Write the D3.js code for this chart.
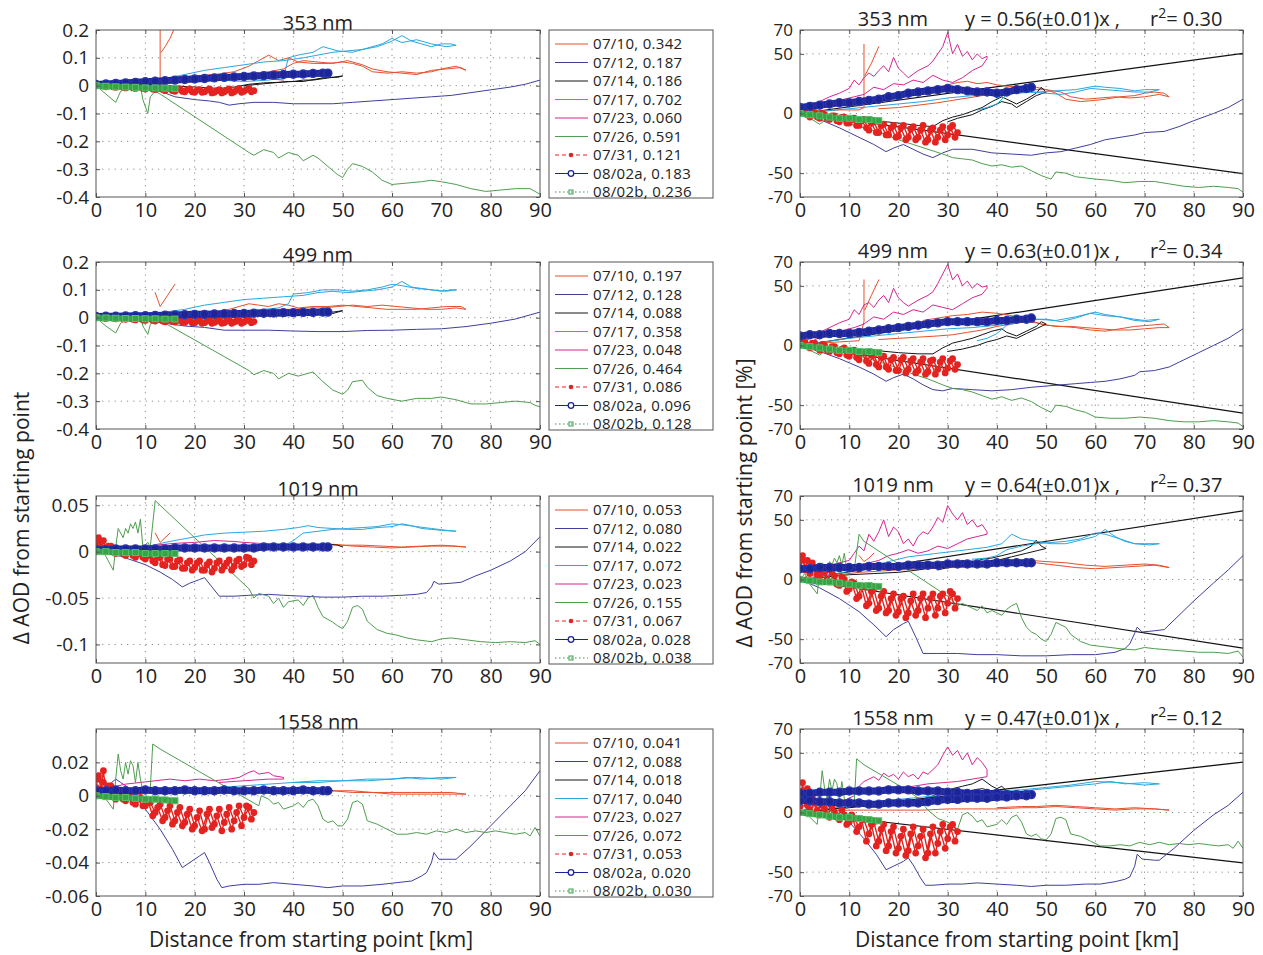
<!DOCTYPE html>
<html>
<head>
<meta charset="utf-8">
<script src="https://cdn.jsdelivr.net/npm/d3@7"></script>
<style>
  body { margin: 0; background: #fff; }
  svg text { font-family: "Open Sans", "Noto Sans", sans-serif; fill: #222; }
</style>
</head>
<body>
<script>
// ---- data ----
var flightDays = ["07/10", "07/12", "07/14", "07/17", "07/23", "07/26", "07/31", "08/02a", "08/02b"];
var wavelengths = ["353 nm", "499 nm", "1019 nm", "1558 nm"];
var startAod353 = ["0.342", "0.187", "0.186", "0.702", "0.060", "0.591", "0.121", "0.183", "0.236"];
var startAod499 = ["0.197", "0.128", "0.088", "0.358", "0.048", "0.464", "0.086", "0.096", "0.128"];
var startAod1019 = ["0.053", "0.080", "0.022", "0.072", "0.023", "0.155", "0.067", "0.028", "0.038"];
var startAod1558 = ["0.041", "0.088", "0.018", "0.040", "0.027", "0.072", "0.053", "0.020", "0.030"];
var fitSlopes = [0.56, 0.63, 0.64, 0.47];
var fitErrors = ["0.01", "0.01", "0.01", "0.01"];
var fitR2 = ["0.30", "0.34", "0.37", "0.12"];
var distTicks = [0, 10, 20, 30, 40, 50, 60, 70, 80, 90];
var absDomains = [[-0.4, 0.2], [-0.4, 0.2], [-0.12, 0.06], [-0.06, 0.04]];
var absTicks = [[-0.4, -0.3, -0.2, -0.1, 0, 0.1, 0.2], [-0.4, -0.3, -0.2, -0.1, 0, 0.1, 0.2],
                [-0.1, -0.05, 0, 0.05], [-0.06, -0.04, -0.02, 0, 0.02]];
var relDomain = [-70, 70];
var relTicks = [-70, -50, 0, 50, 70];

// 353 nm, delta AOD  (flat x,y pairs; null,null breaks the line)
var abs353_0710 = [0,0, 3,0.005, 6,0.01, 9,0.012, 12,0.02, 13,0.02, 13,0.21, null,null, 13.2,0.12, 14,0.14, 15,0.17, 16,0.21, null,null, 16,0.03, 20,0.03, 24,0.04, 28,0.05, 31,0.07, 33,0.09, 35,0.11, 37,0.09, 39,0.1, 41,0.085, 44,0.08, 47,0.08, 50,0.085, 52,0.08, 54,0.07, 56,0.05, 59,0.045, 62,0.05, 65,0.045, 68,0.05, 70,0.06, 73,0.07, 75,0.055, 74,0.065, 71,0.06, 68,0.055, 65,0.04, 62,0.045, 59,0.05, 56,0.06, 54,0.075, 51,0.09, 48,0.08, 45,0.085, 42,0.09, 40,0.08, 38,0.06, 35,0.05, 32,0.045, 28,0.04, 24,0.04, 20,0.035, 16,0.03];
var abs353_0712 = [0,0, 5,-0.005, 10,-0.012, 13,-0.02, 16,-0.04, 20,-0.05, 23,-0.055, 25,-0.06, 27,-0.07, 29,-0.065, 32,-0.06, 36,-0.06, 40,-0.065, 44,-0.065, 48,-0.065, 52,-0.06, 56,-0.055, 60,-0.05, 64,-0.045, 68,-0.04, 72,-0.035, 76,-0.025, 80,-0.015, 84,-0.005, 87,0.005, 90,0.02];
var abs353_0714 = [0,0, 5,0.005, 10,0.005, 15,0, 20,-0.005, 25,-0.01, 28,-0.005, 31,0.005, 34,0.01, 37,0.012, 40,0.015, 42,0.02, 44,0.02, 46,0.025, 48,0.03, 50,0.035, 49,0.03, 47,0.03, 45,0.025, 42,0.015, 39,0.015, 36,0.01, 33,0.005, 30,0];
var abs353_0717 = [0,0, 5,0.005, 10,0.012, 14,0.025, 18,0.04, 22,0.055, 26,0.065, 30,0.075, 34,0.085, 38,0.09, 42,0.1, 45,0.11, 48,0.12, 51,0.125, 54,0.13, 57,0.14, 60,0.16, 62,0.18, 64,0.16, 66,0.15, 68,0.14, 70,0.15, 72,0.15, 73,0.145, 71,0.14, 68,0.15, 65,0.165, 62,0.155, 60,0.17, 58,0.15, 55,0.135, 52,0.12, 49,0.125, 46,0.14, 44,0.12, 41,0.11, 39,0.1, 38,0.03, 35,0.02, 30,0.015, 25,0.02];
var abs353_0723 = [0,0, 4,0.005, 8,0.01, 12,0.015, 16,0.02, 20,0.02, 24,0.025, 28,0.03, 32,0.03, 35,0.025, 38,0.02];
var abs353_0726 = [0,0, 2,-0.03, 4,-0.06, 5,-0.02, 7,-0.005, 9,0, 9.5,-0.05, 10.5,-0.1, 11,-0.04, 12,-0.02, 13,-0.03, 31,-0.24, 32,-0.25, 34,-0.23, 36,-0.24, 37,-0.26, 39,-0.24, 41,-0.25, 42,-0.27, 44,-0.25, 45,-0.26, 47,-0.29, 49,-0.32, 50,-0.33, 51,-0.3, 52,-0.28, 54,-0.29, 56,-0.31, 58,-0.34, 60,-0.355, 63,-0.35, 66,-0.345, 68,-0.34, 70,-0.345, 73,-0.355, 76,-0.37, 79,-0.38, 82,-0.375, 85,-0.37, 88,-0.37, 89,-0.38, 90,-0.39];
var abs353_0731 = [0,0, 1,0.004, 2,-0.004, 3,0.002, 4,-0.006, 5,0, 6,-0.008, 7,-0.002, 8,-0.01, 9,-0.004, 10,-0.012, 11,-0.006, 12,-0.014, 13,-0.008, 14,-0.018, 15,-0.01, 16,-0.02, 17,-0.012, 18,-0.022, 19,-0.012, 20,-0.024, 21,-0.014, 22,-0.022, 23,-0.012, 24,-0.024, 25,-0.014, 26,-0.022, 27,-0.012, 28,-0.022, 29,-0.01, 30,-0.02, 31,-0.01, 32,-0.018,
  31.5,-0.022, 30.5,-0.014, 29.5,-0.024, 28.5,-0.016, 27.5,-0.026, 26.5,-0.016, 25.5,-0.026, 24.5,-0.018, 23.5,-0.026, 22.5,-0.016, 21.5,-0.024, 20.5,-0.016, 19.5,-0.022, 18.5,-0.014, 17.5,-0.02, 16.5,-0.012, 15.5,-0.018, 14.5,-0.01, 13.5,-0.014, 12.5,-0.008, 11.5,-0.012, 10.5,-0.006, 9.5,-0.01, 8.5,-0.004, 7.5,-0.008, 6.5,-0.002, 5.5,-0.006, 4.5,0, 3.5,-0.004, 2.5,0.002, 1.5,-0.002, 0.5,0.002];
var abs353_0802a = [0,0.004, 2,0.006, 4,0.008, 6,0.01, 8,0.012, 10,0.014, 12,0.016, 14,0.018, 16,0.02, 18,0.022, 20,0.024, 22,0.026, 24,0.028, 26,0.03, 28,0.031, 30,0.033, 32,0.035, 34,0.036, 36,0.038, 38,0.04, 40,0.041, 42,0.042, 44,0.044, 46,0.045, 47,0.045];
var abs353_0802b = [0,0, 2,-0.002, 4,-0.004, 6,-0.005, 8,-0.006, 10,-0.008, 12,-0.008, 14,-0.009, 16,-0.01];

// 353 nm, percent
var rel353_0710 = [0,0, 4,2, 8,3, 12,3, 13,5, 13,58, null,null, 13.2,32, 14.5,42, 16,56, null,null, 16,4, 20,5, 24,7, 28,9, 31,11, 34,13, 37,15, 40,18, 43,21, 46,22, 48,22, 50,20, 52,17, 54,12, 57,10, 60,11, 62,12, 65,14, 68,15, 70,17, 72,18, 74,17, 75,14, 73,16, 70,14, 67,13, 64,14, 61,13, 58,12, 55,14, 53,18, 50,20, 47,20, 45,22, 42,23, 40,24, 38,26, 36,25, 34,27, 32,26, 30,24, 28,21];
var rel353_0712 = [0,0, 4,-5, 8,-12, 12,-20, 15,-26, 17.5,-32, 19,-29, 21,-26, 23,-30, 25,-34, 27,-37, 29,-33, 31,-30, 35,-30, 39,-33, 43,-34, 47,-35, 50,-33, 53,-32, 56,-29, 59,-26, 62,-22, 65,-20, 68,-18, 70,-16, 74,-15, 77,-11, 80,-6, 84,0, 87,5, 90,12];
var rel353_0714 = [0,0, 5,-2, 10,-4, 15,-6, 20,-8, 24,-10, 27,-11, 29,-6, 31,-3, 33,-1, 35,2, 37,5, 39,10, 41,14, 42,12, 44,8, 46,12, 48,17, 49,22, 50,18, 48,15, 46,10, 44,5, 43,8, 41,10, 39,6, 37,3, 35,-1, 32,-4, 30,-7];
var rel353_0717 = [0,0, 5,2, 10,4, 15,6, 20,8, 25,10, 30,13, 35,15, 40,17, 44,17, 48,18, 52,19, 56,20, 60,23, 62,22, 65,21, 68,19, 70,20, 73,20, 71,18, 68,18, 65,19, 62,20, 59,21, 56,18, 53,16, 50,17, 47,18, 44,18, 42,16, 40,8, 38,5, 36,3];
var rel353_0723 = [0,0, 2,6, 4,10, 6,14, 8,17, 10,21, 11,28, 12,24, 13,30, 14,34, 15,31, 16,36, 17,40, 18,35, 19,47, 20,38, 21,34, 22,30, 24,36, 26,40, 27,44, 28,50, 29,56, 30,68, 31,50, 32,58, 33,48, 34,52, 35,45, 36,50, 37,46, 38,48, 38,46, 37,40, 35,36, 33,30, 31,26, 29,28, 27,32, 25,26, 23,28, 21,24, 19,25, 17,20, 15,22, 13,16, 11,14, 9,12, 7,10, 5,7, 3,5];
var rel353_0726 = [0,0, 2,-4, 4,-9, 5,-6, 7,-5, 9,-7, 11,-10, 14,-13, 17,-17, 20,-22, 23,-26, 26,-30, 29,-34, 31,-37, 33,-38, 35,-39, 37,-42, 39,-44, 41,-43, 43,-45, 45,-44, 47,-48, 49,-52, 51,-55, 52,-49, 54,-50, 56,-53, 58,-54, 60,-55, 63,-56, 66,-58, 69,-57, 72,-57, 75,-59, 78,-61, 81,-62, 84,-61, 87,-62, 89,-63, 90,-66];
var rel353_0731 = [0,0, 1,2, 2,-3, 3,1, 4,-4, 5,-1, 6,-5, 7,-2, 8,-7, 9,-3, 10,-8, 11,-4, 12,-10, 13,-5, 14,-14, 15,-7, 16,-16, 17,-9, 18,-18, 19,-10, 20,-19, 21,-10, 22,-20, 23,-11, 24,-20, 25,-10, 26,-22, 27,-12, 28,-20, 29,-11, 30,-18, 31,-10, 32,-16,
  31.5,-20, 30.5,-12, 29.5,-22, 28.5,-14, 27.5,-24, 26.5,-14, 25.5,-24, 24.5,-14, 23.5,-22, 22.5,-13, 21.5,-22, 20.5,-12, 19.5,-20, 18.5,-12, 17.5,-18, 16.5,-10, 15.5,-16, 14.5,-8, 13.5,-12, 12.5,-6, 11.5,-10, 10.5,-5, 9.5,-8, 8.5,-3, 7.5,-6, 6.5,-2, 5.5,-4, 4.5,0, 3.5,-3, 2.5,1, 1.5,-1, 0.5,2];
var rel353_0802a = [0,5, 2,6, 4,7, 6,8, 8,9, 10,9, 12,10, 14,11, 16,12, 18,14, 20,15, 22,17, 24,18, 26,19, 28,20, 30,21, 32,20, 34,19, 36,18, 38,18, 40,17, 42,18, 44,20, 46,21, 47,22];
var rel353_0802b = [0,0, 2,-1, 4,-2, 6,-3, 8,-4, 10,-4, 12,-5, 14,-5, 16,-6];

// 499 nm, delta AOD
var abs499_0710 = [0,0, 4,0.004, 8,0.008, 12,0.01, 16,0.012, 20,0.015, 24,0.02, 27,0.03, 29,0.04, 31,0.05, 33,0.045, 35,0.04, 37,0.05, 39,0.045, 41,0.035, 44,0.04, 47,0.04, 50,0.045, 53,0.04, 56,0.035, 59,0.03, 62,0.03, 65,0.03, 68,0.035, 71,0.04, 74,0.04, 75,0.03, 73,0.035, 70,0.03, 67,0.03, 64,0.035, 61,0.04, 58,0.045, 55,0.04, 52,0.045, 49,0.04, 46,0.035, 43,0.035, 40,0.03, 36,0.03, 32,0.025, 28,0.02, null,null, 12,0.09, 13,0.04, 14.5,0.08, 16,0.12];
var abs499_0712 = [0,0, 5,-0.005, 10,-0.012, 14,-0.02, 18,-0.03, 22,-0.035, 26,-0.045, 30,-0.045, 35,-0.045, 40,-0.048, 45,-0.05, 50,-0.05, 55,-0.046, 60,-0.045, 65,-0.042, 70,-0.04, 75,-0.032, 80,-0.02, 85,-0.005, 90,0.02];
var abs499_0714 = [0,0, 10,0.002, 20,0, 25,-0.002, 30,0.003, 35,0.008, 40,0.012, 43,0.015, 46,0.02, 48,0.02, 50,0.025, 48,0.015, 45,0.012, 40,0.008, 35,0.005];
var abs499_0717 = [0,0, 5,0.005, 10,0.01, 14,0.02, 18,0.03, 22,0.045, 26,0.055, 30,0.065, 34,0.07, 38,0.075, 42,0.08, 45,0.09, 48,0.095, 51,0.09, 54,0.095, 57,0.1, 60,0.11, 62,0.13, 64,0.11, 66,0.105, 68,0.1, 70,0.095, 72,0.1, 73,0.1, 71,0.095, 68,0.1, 65,0.105, 62,0.115, 60,0.12, 58,0.11, 55,0.1, 52,0.095, 49,0.1, 46,0.1, 43,0.09, 40,0.085, 39,0.05, 37,0.035, 34,0.03, 30,0.025];
var abs499_0723 = [0,0, 5,0.004, 10,0.008, 15,0.012, 20,0.015, 25,0.018, 30,0.02, 34,0.02, 38,0.018];
var abs499_0726 = [0,0, 2,-0.03, 4,-0.055, 5,-0.02, 7,0, 9,0.01, 9.5,-0.03, 10.5,-0.06, 11,-0.025, 12,0, 13,-0.01, 31,-0.19, 32,-0.205, 34,-0.19, 36,-0.2, 37,-0.22, 39,-0.2, 41,-0.21, 43,-0.2, 44,-0.195, 46,-0.23, 48,-0.26, 50,-0.275, 51,-0.26, 52,-0.23, 54,-0.225, 55,-0.25, 57,-0.28, 59,-0.29, 62,-0.3, 65,-0.29, 68,-0.29, 70,-0.285, 73,-0.295, 76,-0.31, 79,-0.31, 82,-0.305, 85,-0.3, 88,-0.305, 89,-0.315, 90,-0.32];
var abs499_0731 = [0,0, 1,0.003, 2,-0.003, 3,0.002, 4,-0.004, 5,0, 6,-0.006, 7,-0.002, 8,-0.008, 9,-0.002, 10,-0.01, 11,-0.004, 12,-0.012, 13,-0.005, 14,-0.015, 15,-0.006, 16,-0.016, 17,-0.007, 18,-0.017, 19,-0.007, 20,-0.018, 21,-0.008, 22,-0.018, 23,-0.008, 24,-0.017, 25,-0.007, 26,-0.018, 27,-0.008, 28,-0.016, 29,-0.006, 30,-0.016, 31,-0.007, 32,-0.014,
  31.5,-0.018, 30.5,-0.01, 29.5,-0.02, 28.5,-0.012, 27.5,-0.02, 26.5,-0.012, 25.5,-0.02, 24.5,-0.012, 23.5,-0.02, 22.5,-0.012, 21.5,-0.02, 20.5,-0.012, 19.5,-0.018, 18.5,-0.01, 17.5,-0.016, 16.5,-0.01, 15.5,-0.014, 14.5,-0.008, 13.5,-0.012, 12.5,-0.006, 11.5,-0.01, 10.5,-0.004, 9.5,-0.008, 8.5,-0.002, 7.5,-0.006, 6.5,0, 5.5,-0.004, 4.5,0.002, 3.5,-0.002, 2.5,0.002, 1.5,-0.001, 0.5,0.002];
var abs499_0802a = [0,0.004, 2,0.005, 4,0.005, 6,0.006, 8,0.007, 10,0.007, 12,0.008, 14,0.009, 16,0.01, 18,0.011, 20,0.012, 22,0.012, 24,0.013, 26,0.014, 28,0.015, 30,0.015, 32,0.016, 34,0.016, 36,0.017, 38,0.018, 40,0.018, 42,0.019, 44,0.019, 46,0.02, 47,0.02];
var abs499_0802b = [0,0, 2,-0.001, 4,-0.002, 6,-0.003, 8,-0.003, 10,-0.004, 12,-0.004, 14,-0.005, 16,-0.005];

// 499 nm, percent
var rel499_0710 = [0,0, 4,2, 8,3, 12,4, 13,20, 13,55, null,null, 13.2,30, 14.5,42, 16,55, null,null, 16,5, 20,6, 24,7, 28,8, 31,9, 34,11, 37,13, 40,16, 43,18, 46,20, 48,19, 50,17, 53,16, 56,15, 59,13, 62,12, 65,14, 68,16, 71,17, 74,18, 75,15, 73,15, 70,14, 67,13, 64,13, 61,14, 58,15, 55,16, 52,16, 49,18, 46,22, 43,25, 40,27, 37,28, 34,26, 31,25, 28,23, 25,21];
var rel499_0712 = [0,0, 4,-5, 8,-11, 12,-18, 15,-24, 17.5,-30, 19,-27, 21,-24, 23,-28, 25,-33, 27,-37, 29,-38, 31,-36, 35,-37, 39,-38, 43,-37, 47,-35, 50,-34, 53,-33, 56,-32, 59,-31, 62,-30, 65,-28, 68,-25, 69,-22, 72,-21, 75,-18, 78,-12, 81,-6, 84,0, 87,6, 90,14];
var rel499_0714 = [0,0, 5,-2, 10,-3, 15,-4, 20,-6, 24,-7, 27,-7, 29,-2, 31,2, 33,4, 35,6, 37,9, 39,12, 41,14, 42,11, 44,8, 46,12, 48,16, 49,20, 50,18, 48,14, 46,10, 44,6, 42,8, 40,5, 38,3, 36,0, 33,-3, 30,-5];
var rel499_0717 = [0,0, 5,3, 10,6, 15,8, 20,10, 25,12, 30,14, 35,15, 40,17, 44,20, 48,22, 52,21, 56,24, 60,28, 62,26, 65,24, 68,22, 70,21, 73,22, 71,20, 68,21, 65,24, 62,25, 59,27, 56,23, 53,20, 50,22, 47,22, 44,19, 42,17, 40,10, 38,6, 36,4];
var rel499_0723 = [0,0, 2,6, 4,11, 6,15, 8,19, 10,22, 11,30, 12,26, 13,34, 14,36, 15,32, 16,38, 17,42, 18,36, 19,48, 20,40, 21,36, 22,33, 24,38, 26,42, 27,45, 28,52, 29,60, 30,68, 31,55, 32,60, 33,50, 34,54, 35,48, 36,52, 37,49, 38,50, 38,48, 37,43, 35,40, 33,35, 31,30, 29,32, 27,34, 25,28, 23,30, 21,26, 19,28, 17,22, 15,24, 13,18, 11,15, 9,13, 7,11, 5,8, 3,5];
var rel499_0726 = [0,0, 2,-4, 4,-8, 5,-5, 7,-4, 9,-6, 11,-8, 14,-11, 17,-15, 20,-19, 23,-24, 26,-28, 29,-33, 31,-36, 33,-37, 35,-39, 37,-42, 39,-45, 41,-43, 43,-46, 45,-44, 47,-47, 49,-52, 51,-56, 52,-50, 54,-51, 56,-54, 58,-56, 60,-60, 63,-61, 66,-61, 69,-60, 72,-61, 75,-63, 78,-64, 81,-64, 84,-63, 87,-64, 89,-65, 90,-68];
var rel499_0731 = [0,0, 1,3, 2,-2, 3,2, 4,-4, 5,0, 6,-5, 7,-1, 8,-7, 9,-2, 10,-9, 11,-4, 12,-12, 13,-6, 14,-15, 15,-8, 16,-18, 17,-9, 18,-20, 19,-10, 20,-21, 21,-10, 22,-20, 23,-11, 24,-21, 25,-11, 26,-22, 27,-12, 28,-20, 29,-11, 30,-19, 31,-11, 32,-16,
  31.5,-20, 30.5,-13, 29.5,-23, 28.5,-14, 27.5,-24, 26.5,-13, 25.5,-24, 24.5,-14, 23.5,-23, 22.5,-13, 21.5,-23, 20.5,-12, 19.5,-21, 18.5,-12, 17.5,-18, 16.5,-10, 15.5,-16, 14.5,-8, 13.5,-13, 12.5,-6, 11.5,-10, 10.5,-5, 9.5,-8, 8.5,-3, 7.5,-6, 6.5,-1, 5.5,-4, 4.5,1, 3.5,-2, 2.5,2, 1.5,0, 0.5,3];
var rel499_0802a = [0,8, 2,9, 4,9, 6,10, 8,10, 10,10, 12,11, 14,12, 16,13, 18,14, 20,15, 22,16, 24,17, 26,18, 28,19, 30,20, 32,20, 34,20, 36,20, 38,20, 40,21, 42,21, 44,22, 46,22, 47,23];
var rel499_0802b = [0,0, 2,-1, 4,-2, 6,-3, 8,-4, 10,-4, 12,-5, 14,-5, 16,-6];

// 1019 nm, delta AOD
var abs1019_0710 = [0,0, 4,0.002, 8,0.003, 12,0.004, 16,0.004, 20,0.005, 25,0.006, 30,0.006, 35,0.006, 40,0.007, 45,0.007, 48,0.008, 52,0.006, 56,0.005, 60,0.004, 64,0.005, 68,0.006, 72,0.006, 75,0.005, 73,0.006, 70,0.007, 66,0.006, 62,0.005, 58,0.006, 54,0.007, 50,0.007, 47,0.008, null,null, 12,0.02, 13,0.01, 14,0.015, 15,0.02];
var abs1019_0712 = [0,0, 5,-0.005, 10,-0.014, 13,-0.022, 15.5,-0.03, 17.5,-0.038, 19,-0.034, 21,-0.03, 22,-0.028, 23.5,-0.038, 25,-0.048, 28,-0.048, 31,-0.047, 35,-0.046, 38,-0.047, 42,-0.048, 46,-0.049, 50,-0.049, 54,-0.048, 58,-0.048, 62,-0.047, 65,-0.046, 67,-0.044, 68,-0.038, 68.5,-0.032, 69.5,-0.035, 72,-0.034, 74,-0.033, 77,-0.026, 80,-0.02, 84,-0.01, 87,0, 90,0.016];
var abs1019_0714 = [0,0, 10,0.002, 20,0.003, 30,0.004, 40,0.005, 44,0.006, 47,0.008, 49,0.007, 50,0.005];
var abs1019_0717 = [0,0, 5,0.002, 10,0.005, 14,0.01, 18,0.014, 22,0.018, 26,0.02, 30,0.021, 34,0.022, 38,0.024, 41,0.026, 43,0.028, 45,0.026, 48,0.025, 51,0.024, 54,0.024, 57,0.026, 60,0.027, 62,0.03, 64,0.028, 66,0.025, 68,0.024, 70,0.023, 73,0.022, 71,0.023, 68,0.025, 65,0.027, 62,0.029, 60,0.03, 57,0.027, 54,0.026, 51,0.025, 48,0.024, 45,0.022, 42,0.02, 40,0.012, 38,0.006, 35,0.005];
var abs1019_0723 = [0,0, 4,0.003, 8,0.005, 12,0.007, 16,0.009, 20,0.01, 24,0.012, 28,0.011, 30,0.01, 33,0.009, 36,0.008, 38,0.007];
var abs1019_0726 = [0,0, 1,0.004, 2,-0.005, 3.5,-0.02, 4,0.005, 4.5,0.025, 5.5,0.015, 6,0.025, 6.5,0.02, 7,0.03, 7.5,0.025, 8,0.032, 8.5,0.02, 9,0.035, 9.5,0.005, 10.5,0.01, 11,0.005, 12,0.055, 13,0.05, 31,-0.04, 32,-0.05, 33,-0.045, 35,-0.048, 36,-0.056, 37,-0.05, 38,-0.06, 39,-0.054, 41,-0.052, 42,-0.058, 43,-0.05, 44,-0.047, 45,-0.06, 46,-0.07, 47,-0.073, 48,-0.076, 49,-0.08, 50,-0.083, 51,-0.075, 52,-0.06, 53,-0.058, 54,-0.062, 55,-0.075, 57,-0.084, 59,-0.088, 61,-0.09, 63,-0.093, 65,-0.095, 68,-0.097, 70,-0.094, 72,-0.093, 75,-0.095, 78,-0.097, 81,-0.098, 84,-0.097, 87,-0.098, 89,-0.096, 90,-0.1];
var abs1019_0731 = [0,0.008, 0.5,0.015, 1,0.005, 1.5,0.012, 2,0.002, 3,0.006, 4,-0.002, 5,0.002, 6,-0.004, 7,0, 8,-0.006, 9,-0.002, 10,-0.008, 11,-0.004, 12,-0.012, 13,-0.006, 14,-0.015, 15,-0.008, 16,-0.016, 17,-0.009, 18,-0.018, 19,-0.01, 20,-0.017, 21,-0.01, 22,-0.02, 23,-0.011, 24,-0.018, 25,-0.01, 26,-0.016, 27,-0.009, 28,-0.016, 29,-0.008, 30,-0.014, 31,-0.007, 32,-0.01,
  31.5,-0.014, 30.5,-0.006, 29.5,-0.016, 28.5,-0.01, 27.5,-0.02, 26.5,-0.012, 25.5,-0.02, 24.5,-0.012, 23.5,-0.022, 22.5,-0.014, 21.5,-0.02, 20.5,-0.012, 19.5,-0.02, 18.5,-0.012, 17.5,-0.018, 16.5,-0.01, 15.5,-0.016, 14.5,-0.008, 13.5,-0.014, 12.5,-0.006, 11.5,-0.01, 10.5,-0.004, 9.5,-0.006, 8.5,-0.002, 7.5,-0.004, 6.5,0, 5.5,-0.002, 4.5,0.002, 3.5,0, 2.5,0.006, 1.5,0.004, 0.5,0.01];
var abs1019_0802a = [0,0.002, 2,0.002, 4,0.003, 6,0.003, 8,0.003, 10,0.003, 12,0.003, 14,0.003, 16,0.004, 18,0.004, 20,0.004, 22,0.004, 24,0.004, 26,0.004, 28,0.004, 30,0.004, 32,0.004, 34,0.005, 36,0.005, 38,0.005, 40,0.005, 42,0.005, 44,0.005, 46,0.005, 47,0.005];
var abs1019_0802b = [0,0, 2,0, 4,-0.001, 6,-0.001, 8,-0.001, 10,-0.002, 12,-0.002, 14,-0.002, 16,-0.002];

// 1019 nm, percent
var rel1019_0710 = [0,0, 4,3, 8,4, 12,6, 16,7, 20,8, 25,9, 30,10, 35,11, 40,12, 45,13, 48,14, 52,12, 56,10, 60,9, 64,10, 68,11, 72,12, 75,10, 73,12, 70,13, 66,12, 62,11, 58,12, 54,14, 50,15, 47,16, null,null, 12,20, 13,15, 14,18, 15,22];
var rel1019_0712 = [0,0, 4,-7, 8,-16, 12,-27, 15,-38, 17.5,-48, 19,-42, 21,-37, 22,-35, 23.5,-48, 25,-62, 28,-62, 32,-62, 36,-63, 40,-63, 45,-64, 50,-64, 55,-63, 60,-63, 64,-61, 66,-58, 67,-54, 68,-45, 68.5,-40, 69.5,-44, 72,-43, 74,-42, 77,-30, 80,-18, 84,-3, 87,8, 90,20];
var rel1019_0714 = [0,0, 5,2, 10,4, 15,5, 20,6, 24,8, 27,10, 29,12, 31,13, 33,16, 35,14, 37,17, 39,18, 41,20, 43,22, 45,24, 47,28, 48,33, 49,28, 50,26, 48,24, 46,22, 43,19, 40,16, 37,14, 34,13, 31,11, 28,8];
var rel1019_0717 = [0,0, 5,3, 10,7, 14,11, 18,15, 22,19, 26,21, 30,23, 34,25, 38,27, 41,30, 43,38, 45,34, 48,32, 51,30, 54,30, 57,33, 60,36, 62,42, 64,36, 66,32, 68,30, 70,30, 73,30, 71,29, 68,30, 65,34, 62,38, 60,39, 57,34, 54,32, 51,31, 48,30, 45,28, 42,25, 40,20, 38,18, 35,17];
var rel1019_0723 = [0,0, 2,4, 4,8, 6,12, 8,14, 10,16, 11,22, 12,28, 13,24, 14,38, 15,32, 16,40, 17,50, 18,36, 19,44, 20,40, 21,30, 22,34, 23,28, 24,36, 25,40, 26,38, 27,44, 28,52, 29,48, 30,62, 31,55, 32,50, 33,56, 34,46, 35,50, 36,44, 37,46, 38,40, 38,38, 36,36, 34,34, 32,30, 30,26, 28,28, 26,24, 24,22, 22,25, 20,22, 18,20, 16,16, 14,14, 12,12, 10,10, 8,8, 6,6, 4,5, 2,3];
var rel1019_0726 = [0,0, 1,5, 2,-4, 3.5,-12, 4,5, 4.5,14, 5.5,10, 6,15, 6.5,12, 7,18, 7.5,14, 8,20, 8.5,12, 9,22, 9.5,8, 10.5,10, 11,8, 12,38, 13,32, 30,-14, 31,-18, 32,-22, 33,-20, 35,-24, 36,-26, 37,-22, 38,-28, 39,-26, 41,-30, 42,-25, 43,-22, 44,-20, 45,-32, 46,-40, 47,-44, 48,-46, 49,-50, 50,-52, 51,-46, 52,-36, 53,-38, 54,-40, 55,-46, 57,-52, 59,-55, 61,-56, 63,-57, 65,-58, 68,-59, 70,-57, 72,-58, 75,-59, 78,-60, 81,-61, 84,-61, 87,-62, 89,-60, 90,-65];
var rel1019_0731 = [0,10, 0.5,20, 1,8, 1.5,16, 2,5, 3,10, 4,2, 5,6, 6,-2, 7,3, 8,-5, 9,0, 10,-8, 11,-3, 12,-14, 13,-6, 14,-20, 15,-8, 16,-24, 17,-10, 18,-26, 19,-12, 20,-27, 21,-14, 22,-28, 23,-12, 24,-26, 25,-12, 26,-24, 27,-12, 28,-24, 29,-12, 30,-20, 31,-12, 32,-16,
  31.5,-24, 30.5,-10, 29.5,-28, 28.5,-14, 27.5,-30, 26.5,-16, 25.5,-32, 24.5,-16, 23.5,-30, 22.5,-18, 21.5,-32, 20.5,-16, 19.5,-30, 18.5,-16, 17.5,-28, 16.5,-14, 15.5,-26, 14.5,-10, 13.5,-22, 12.5,-6, 11.5,-16, 10.5,-2, 9.5,-10, 8.5,2, 7.5,-4, 6.5,6, 5.5,0, 4.5,8, 3.5,4, 2.5,14, 1.5,8, 0.5,16];
var rel1019_0802a = [0,9, 2,9, 4,10, 6,10, 8,10, 10,10, 12,10, 14,11, 16,11, 18,11, 20,11, 22,12, 24,12, 26,12, 28,12, 30,13, 32,13, 34,13, 36,13, 38,13, 40,14, 42,14, 44,14, 46,14, 47,14];
var rel1019_0802b = [0,0, 2,-1, 4,-2, 6,-2, 8,-3, 10,-4, 12,-5, 14,-5, 16,-6];

// 1558 nm, delta AOD
var abs1558_0710 = [0,0, 5,0.001, 10,0.002, 15,0.002, 20,0.002, 25,0.002, 30,0.002, 35,0.002, 40,0.002, 45,0.003, 48,0.003, 52,0.002, 56,0.002, 60,0.001, 65,0.001, 70,0.001, 75,0.001, 72,0.002, 68,0.002, 64,0.002, 60,0.002, 56,0.002, 52,0.003, 48,0.003];
var abs1558_0712 = [0,0, 2,0.005, 4,0.01, 5,0.008, 7,0.004, 10,-0.008, 13,-0.02, 15.5,-0.032, 17.5,-0.043, 19,-0.04, 21,-0.036, 22,-0.034, 23,-0.04, 24.5,-0.05, 25.5,-0.055, 27,-0.054, 30,-0.053, 33,-0.053, 36,-0.052, 40,-0.053, 44,-0.054, 47,-0.055, 50,-0.054, 54,-0.054, 58,-0.053, 61,-0.052, 64,-0.051, 66,-0.048, 67,-0.046, 68,-0.04, 68.5,-0.034, 69.5,-0.038, 72,-0.038, 73,-0.038, 76,-0.03, 80,-0.018, 84,-0.006, 87,0.003, 90,0.015];
var abs1558_0714 = [0,0, 10,0.002, 20,0.003, 30,0.003, 40,0.003, 45,0.004, 47,0.005, 48,0.003];
var abs1558_0717 = [0,0, 5,0.001, 10,0.002, 15,0.003, 20,0.004, 25,0.005, 30,0.006, 35,0.007, 40,0.008, 45,0.008, 50,0.009, 55,0.009, 60,0.01, 63,0.011, 66,0.01, 70,0.011, 73,0.011, 70,0.01, 65,0.011, 60,0.01, 55,0.01, 50,0.009, 45,0.009, 40,0.008];
var abs1558_0723 = [0,0, 3,0.005, 6,0.007, 9,0.008, 12,0.009, 15,0.01, 18,0.009, 21,0.01, 24,0.009, 27,0.01, 29,0.011, 31,0.014, 32,0.015, 33,0.013, 35,0.014, 36,0.012, 38,0.011, 38,0.01, 35,0.01, 30,0.009, 25,0.008];
var abs1558_0726 = [0,0, 1,0.003, 2,-0.002, 3.5,-0.008, 4,0.01, 4.5,0.025, 5,0.015, 5.5,0.01, 6,0.02, 6.5,0.013, 7,0.021, 7.5,0.018, 8,0.008, 8.5,0.02, 9,0.01, 9.5,0.002, 10.5,0.005, 11,0.004, 11.5,0.031, 13,0.028, 33,-0.006, 33.5,0, 35,-0.002, 36,-0.005, 37,-0.004, 38,-0.008, 40,-0.006, 41,-0.004, 42,-0.007, 43,-0.003, 44,-0.002, 45,-0.006, 46,-0.014, 47,-0.016, 48,-0.015, 49,-0.018, 50,-0.018, 51,-0.014, 52,-0.004, 53,-0.003, 54,-0.005, 55,-0.015, 57,-0.017, 59,-0.02, 61,-0.023, 63,-0.023, 65,-0.022, 67,-0.023, 69,-0.021, 71,-0.022, 73,-0.02, 75,-0.022, 77,-0.021, 79,-0.022, 81,-0.021, 83,-0.022, 85,-0.023, 87,-0.022, 88,-0.024, 89,-0.019, 90,-0.024];
var abs1558_0731 = [0,0.005, 0.5,0.012, 1,0.004, 1.5,0.015, 2,0.002, 3,0.006, 4,-0.002, 5,0.002, 6,-0.003, 7,0, 8,-0.005, 9,-0.001, 10,-0.006, 11,-0.004, 12,-0.01, 13,-0.005, 14,-0.013, 15,-0.006, 16,-0.015, 17,-0.007, 18,-0.016, 19,-0.008, 20,-0.018, 21,-0.009, 22,-0.02, 23,-0.008, 24,-0.017, 25,-0.008, 26,-0.016, 27,-0.007, 28,-0.015, 29,-0.006, 30,-0.013, 31,-0.007, 32,-0.01,
  31.5,-0.014, 30.5,-0.006, 29.5,-0.018, 28.5,-0.01, 27.5,-0.02, 26.5,-0.011, 25.5,-0.021, 24.5,-0.012, 23.5,-0.019, 22.5,-0.011, 21.5,-0.021, 20.5,-0.013, 19.5,-0.02, 18.5,-0.011, 17.5,-0.018, 16.5,-0.01, 15.5,-0.017, 14.5,-0.009, 13.5,-0.015, 12.5,-0.007, 11.5,-0.012, 10.5,-0.003, 9.5,-0.006, 8.5,-0.002, 7.5,-0.004, 6.5,0, 5.5,-0.002, 4.5,0.002, 3.5,0, 2.5,0.006, 1.5,0.008, 0.5,0.01];
var abs1558_0802a = [0,0.003, 2,0.003, 4,0.0035, 6,0.003, 8,0.003, 10,0.0035, 12,0.003, 14,0.003, 16,0.003, 18,0.0035, 20,0.003, 22,0.003, 24,0.003, 26,0.0035, 28,0.003, 30,0.003, 32,0.003, 34,0.0035, 36,0.003, 38,0.003, 40,0.003, 42,0.0035, 44,0.003, 46,0.003, 47,0.003];
var abs1558_0802b = [0,0, 2,-0.0005, 4,-0.001, 6,-0.001, 8,-0.0015, 10,-0.002, 12,-0.002, 14,-0.0025, 16,-0.003];

// 1558 nm, percent
var rel1558_0710 = [0,0, 5,1, 10,2, 15,2, 20,2, 25,2, 30,3, 35,3, 40,3, 45,4, 48,4, 52,5, 56,4, 60,3, 64,2, 68,3, 72,3, 75,2, 72,3, 68,4, 64,3, 60,4, 56,5, 52,6, 48,5, 45,5, 40,4];
var rel1558_0712 = [0,0, 2,5, 4,9, 5,7, 7,2, 10,-8, 13,-22, 15.5,-35, 17.5,-48, 19,-45, 21,-41, 22,-38, 23,-44, 24.5,-55, 25.5,-61, 27,-61, 30,-60, 33,-60, 36,-59, 40,-60, 44,-61, 47,-62, 50,-61, 54,-61, 58,-60, 61,-60, 64,-58, 66,-56, 67,-54, 68,-45, 68.5,-35, 69.5,-39, 72,-40, 73,-40, 76,-30, 80,-15, 84,-2, 87,6, 90,17];
var rel1558_0714 = [0,0, 5,2, 10,4, 15,6, 20,8, 24,10, 27,14, 29,18, 31,20, 33,22, 35,24, 37,28, 38,25, 39,22, 40,20, 41,22, 42,18, 40,17, 37,20, 34,18, 30,16, 26,12];
var rel1558_0717 = [0,0, 5,3, 10,6, 15,9, 20,11, 25,13, 30,15, 35,16, 40,17, 45,18, 50,20, 55,22, 60,24, 63,26, 66,24, 70,25, 73,24, 70,23, 65,25, 60,26, 55,23, 50,21, 45,19, 40,18];
var rel1558_0723 = [0,0, 3,5, 6,8, 9,10, 11,14, 12,22, 13,26, 14,28, 15,30, 16,27, 17,33, 18,30, 19,32, 20,28, 21,34, 22,30, 23,32, 24,28, 25,34, 26,32, 27,36, 28,40, 29,48, 30,55, 31,48, 32,52, 33,44, 34,50, 35,40, 36,46, 37,42, 38,36, 38,30, 35,28, 32,26, 29,25, 26,24, 23,22, 20,20];
var rel1558_0726 = [0,0, 1,8, 2,-4, 3.5,-10, 4,12, 4.5,35, 5,20, 5.5,12, 6,28, 6.5,18, 7,28, 7.5,24, 8,10, 8.5,26, 9,12, 9.5,3, 10.5,8, 11,6, 11.5,45, 13,40, 22,18, 24,12, 26,2, 28,-5, 30,-8, 32,-14, 33,-2, 34,0, 35,-3, 36,-8, 37,-6, 38,-12, 40,-10, 41,-6, 42,-10, 43,-4, 44,-2, 45,-8, 46,-18, 47,-20, 48,-18, 49,-22, 50,-23, 51,-18, 52,-5, 53,-4, 54,-6, 55,-18, 57,-20, 59,-24, 61,-28, 63,-28, 65,-27, 67,-28, 69,-25, 71,-27, 73,-25, 75,-27, 77,-26, 79,-27, 81,-26, 83,-27, 85,-28, 87,-27, 88,-30, 89,-24, 90,-30];
var rel1558_0731 = [0,5, 0.5,25, 1,10, 1.5,20, 2,2, 3,8, 4,-2, 5,3, 6,-4, 7,0, 8,-6, 9,-2, 10,-8, 11,-5, 12,-12, 13,-6, 14,-18, 15,-8, 16,-24, 17,-10, 18,-28, 19,-12, 20,-30, 21,-14, 22,-32, 23,-12, 24,-28, 25,-14, 26,-34, 27,-12, 28,-26, 29,-10, 30,-22, 31,-10, 32,-16,
  31.5,-24, 30.5,-12, 29.5,-30, 28.5,-16, 27.5,-34, 26.5,-18, 25.5,-38, 24.5,-20, 23.5,-34, 22.5,-18, 21.5,-36, 20.5,-20, 19.5,-34, 18.5,-16, 17.5,-32, 16.5,-14, 15.5,-28, 14.5,-10, 13.5,-24, 12.5,-6, 11.5,-16, 10.5,-2, 9.5,-10, 8.5,2, 7.5,-4, 6.5,4, 5.5,-2, 4.5,6, 3.5,2, 2.5,12, 1.5,6, 0.5,18];
var rel1558_0802a = [0,16, 2,16, 4,17, 6,17, 8,17, 10,18, 12,18, 14,18, 16,18, 18,19, 20,19, 22,19, 24,18, 26,18, 28,18, 30,17, 32,17, 34,16, 36,16, 38,16, 40,16, 42,15, 44,15, 46,15, 47,15, 46,14, 44,14, 42,13, 40,13, 38,12, 36,12, 34,12, 32,11, 30,11, 28,10, 26,9, 24,8, 22,8, 20,8, 18,8, 16,7, 14,7, 12,8, 10,8, 8,8, 6,9, 4,9, 2,10, 0,10];
var rel1558_0802b = [0,0, 2,-1, 4,-2, 6,-3, 8,-4, 10,-4, 12,-5, 14,-6, 16,-7];

var absSeries = [
  [abs353_0710, abs353_0712, abs353_0714, abs353_0717, abs353_0723, abs353_0726, abs353_0731, abs353_0802a, abs353_0802b],
  [abs499_0710, abs499_0712, abs499_0714, abs499_0717, abs499_0723, abs499_0726, abs499_0731, abs499_0802a, abs499_0802b],
  [abs1019_0710, abs1019_0712, abs1019_0714, abs1019_0717, abs1019_0723, abs1019_0726, abs1019_0731, abs1019_0802a, abs1019_0802b],
  [abs1558_0710, abs1558_0712, abs1558_0714, abs1558_0717, abs1558_0723, abs1558_0726, abs1558_0731, abs1558_0802a, abs1558_0802b]
];
var relSeries = [
  [rel353_0710, rel353_0712, rel353_0714, rel353_0717, rel353_0723, rel353_0726, rel353_0731, rel353_0802a, rel353_0802b],
  [rel499_0710, rel499_0712, rel499_0714, rel499_0717, rel499_0723, rel499_0726, rel499_0731, rel499_0802a, rel499_0802b],
  [rel1019_0710, rel1019_0712, rel1019_0714, rel1019_0717, rel1019_0723, rel1019_0726, rel1019_0731, rel1019_0802a, rel1019_0802b],
  [rel1558_0710, rel1558_0712, rel1558_0714, rel1558_0717, rel1558_0723, rel1558_0726, rel1558_0731, rel1558_0802a, rel1558_0802b]
];
var startAod = [startAod353, startAod499, startAod1019, startAod1558];

// ---- layout / style ----
var dayColors = ["#e5502e", "#3f3f9c", "#151515", "#2aa7df", "#d6268f", "#4f9d4f", "#e42320", "#1d2596", "#35a346"];
var rowTop = [30, 262, 496, 729], rowH = 167;
var leftCol = [96, 540], rightCol = [800, 1243];
var fontFam = '"Open Sans", "Noto Sans", sans-serif';

var svg = d3.select("body").append("svg")
    .attr("width", 1263)
    .attr("height", 955);

// turn a flat x,y list into points; null pairs break the line
function toPoints(flat) {
  var out = [];
  for (var k = 0; k < flat.length; k += 2) {
    out.push(flat[k] === null ? null : [flat[k], flat[k + 1]]);
  }
  return out;
}

function drawPanel(id, cols, top, yDomain, yTicks, series, slope, ySize) {
  var x = d3.scaleLinear().domain([0, 90]).range(cols);
  var y = d3.scaleLinear().domain(yDomain).range([top + rowH, top]);
  var g = svg.append("g");

  // dotted grid
  g.selectAll(".gx").data(distTicks.slice(1, -1)).enter().append("line")
      .attr("x1", function(d) { return x(d); }).attr("x2", function(d) { return x(d); })
      .attr("y1", top).attr("y2", top + rowH)
      .attr("stroke", "#8a8a8a").attr("stroke-dasharray", "1.2,5");
  g.selectAll(".gy").data(yTicks.filter(function(d) { return d > yDomain[0] && d < yDomain[1]; }))
      .enter().append("line")
      .attr("x1", cols[0]).attr("x2", cols[1])
      .attr("y1", function(d) { return y(d); }).attr("y2", function(d) { return y(d); })
      .attr("stroke", "#8a8a8a").attr("stroke-dasharray", "1.2,5");

  svg.append("clipPath").attr("id", "clip" + id).append("rect")
      .attr("x", cols[0]).attr("y", top)
      .attr("width", cols[1] - cols[0]).attr("height", rowH);
  var sg = g.append("g").attr("clip-path", "url(#clip" + id + ")");

  // regression lines on the percent panels
  if (slope) {
    [slope, -slope].forEach(function(s) {
      sg.append("path")
          .attr("d", d3.line().x(function(d) { return x(d); }).y(function(d) { return y(s * d); })([0, 90]))
          .attr("stroke", "#111").attr("stroke-width", 1.2).attr("fill", "none");
    });
  }

  var line = d3.line()
      .defined(function(d) { return d !== null; })
      .x(function(d) { return x(d[0]); })
      .y(function(d) { return y(d[1]); });

  series.forEach(function(flat, i) {
    var pts = toPoints(flat);
    var col = dayColors[i];
    var width = i === 7 ? 7 : (i === 8 ? 6 : (i === 6 ? 1.4 : 1));
    sg.append("path")
        .attr("d", line(pts))
        .attr("fill", "none")
        .attr("stroke", col)
        .attr("stroke-width", width)
        .attr("stroke-linejoin", "round")
        .attr("stroke-linecap", "round");
    var real = pts.filter(function(d) { return d !== null; });
    if (i === 6) {
      sg.selectAll(".m6").data(real).enter().append("circle")
          .attr("cx", function(d) { return x(d[0]); }).attr("cy", function(d) { return y(d[1]); })
          .attr("r", 3.4).attr("fill", col);
    } else if (i === 7) {
      sg.selectAll(".m7").data(real).enter().append("circle")
          .attr("cx", function(d) { return x(d[0]); }).attr("cy", function(d) { return y(d[1]); })
          .attr("r", 4).attr("fill", col).attr("stroke", "#2a35b0").attr("stroke-width", 1.4);
    } else if (i === 8) {
      sg.selectAll(".m8").data(real).enter().append("rect")
          .attr("x", function(d) { return x(d[0]) - 3; }).attr("y", function(d) { return y(d[1]) - 3; })
          .attr("width", 6).attr("height", 6).attr("fill", col).attr("stroke", "#5cbf6a").attr("stroke-width", 1);
    }
  });

  // frame and inward ticks
  g.append("rect")
      .attr("x", cols[0]).attr("y", top)
      .attr("width", cols[1] - cols[0]).attr("height", rowH)
      .attr("fill", "none").attr("stroke", "#555").attr("stroke-width", 1);

  var fmt = function(d) { return String(d); };
  var axB = g.append("g").attr("transform", "translate(0," + (top + rowH) + ")")
      .call(d3.axisBottom(x).tickValues(distTicks).tickSize(-4).tickPadding(6).tickFormat(fmt));
  var axT = g.append("g").attr("transform", "translate(0," + top + ")")
      .call(d3.axisTop(x).tickValues(distTicks).tickSize(-4).tickFormat(""));
  var axL = g.append("g").attr("transform", "translate(" + cols[0] + ",0)")
      .call(d3.axisLeft(y).tickValues(yTicks).tickSize(-4).tickPadding(7).tickFormat(fmt));
  var axR = g.append("g").attr("transform", "translate(" + cols[1] + ",0)")
      .call(d3.axisRight(y).tickValues(yTicks).tickSize(-4).tickFormat(""));
  [axB, axT, axL, axR].forEach(function(a) {
    a.select(".domain").remove();
    a.selectAll(".tick line").attr("stroke", "#555");
    a.selectAll("text").attr("font-family", fontFam).attr("font-size", 20).attr("fill", "#222");
  });
  axL.selectAll("text").attr("font-size", ySize);
  return g;
}

function drawLegend(r) {
  var top = rowTop[r];
  var lg = svg.append("g");
  lg.append("rect").attr("x", 549).attr("y", top).attr("width", 164).attr("height", rowH + 1)
      .attr("fill", "#fff").attr("stroke", "#555");
  flightDays.forEach(function(day, i) {
    var yy = top + 14 + i * 18.5;
    var col = dayColors[i];
    var dash = i === 6 ? "4,3" : (i === 8 ? "1.5,2.5" : null);
    lg.append("line").attr("x1", 555).attr("x2", 588).attr("y1", yy).attr("y2", yy)
        .attr("stroke", col).attr("stroke-width", 1).attr("stroke-dasharray", dash);
    if (i === 6) lg.append("circle").attr("cx", 571).attr("cy", yy).attr("r", 2.3).attr("fill", col);
    if (i === 7) lg.append("circle").attr("cx", 571).attr("cy", yy).attr("r", 2.8)
        .attr("fill", "#fff").attr("stroke", col).attr("stroke-width", 1.3);
    if (i === 8) lg.append("rect").attr("x", 569).attr("y", yy - 2).attr("width", 4).attr("height", 4)
        .attr("fill", "none").attr("stroke", col);
    lg.append("text").attr("x", 593).attr("y", yy).attr("dy", "0.35em")
        .attr("font-size", 15).attr("letter-spacing", 0.3).text(day + ", " + startAod[r][i]);
  });
}

wavelengths.forEach(function(wl, r) {
  var top = rowTop[r];
  drawPanel("a" + r, leftCol, top, absDomains[r], absTicks[r], absSeries[r], null, 19);
  drawPanel("p" + r, rightCol, top, relDomain, relTicks, relSeries[r], fitSlopes[r], 17);
  drawLegend(r);

  svg.append("text").attr("x", 318).attr("y", top).attr("text-anchor", "middle")
      .attr("font-size", 20).text(wl);

  svg.append("text").attr("x", 893).attr("y", top - 4).attr("text-anchor", "middle")
      .attr("font-size", 20).text(wl);
  svg.append("text").attr("x", 965).attr("y", top - 4)
      .attr("font-size", 20).text("y = " + fitSlopes[r].toFixed(2) + "(\u00b1" + fitErrors[r] + ")x ,");
  var r2 = svg.append("text").attr("x", 1150).attr("y", top - 4).attr("font-size", 20);
  r2.append("tspan").text("r");
  r2.append("tspan").attr("font-size", 14).attr("dy", -8).text("2");
  r2.append("tspan").attr("dy", 8).text("= " + fitR2[r]);
});

// axis titles
svg.append("text").attr("transform", "translate(29,518) rotate(-90)")
    .attr("text-anchor", "middle").attr("font-size", 21).text("\u0394 AOD from starting point");
svg.append("text").attr("transform", "translate(752,503) rotate(-90)")
    .attr("text-anchor", "middle").attr("font-size", 21).text("\u0394 AOD from starting point [%]");
svg.append("text").attr("x", 311).attr("y", 947).attr("text-anchor", "middle")
    .attr("font-size", 21).text("Distance from starting point [km]");
svg.append("text").attr("x", 1017).attr("y", 947).attr("text-anchor", "middle")
    .attr("font-size", 21).text("Distance from starting point [km]");
</script>
</body>
</html>
